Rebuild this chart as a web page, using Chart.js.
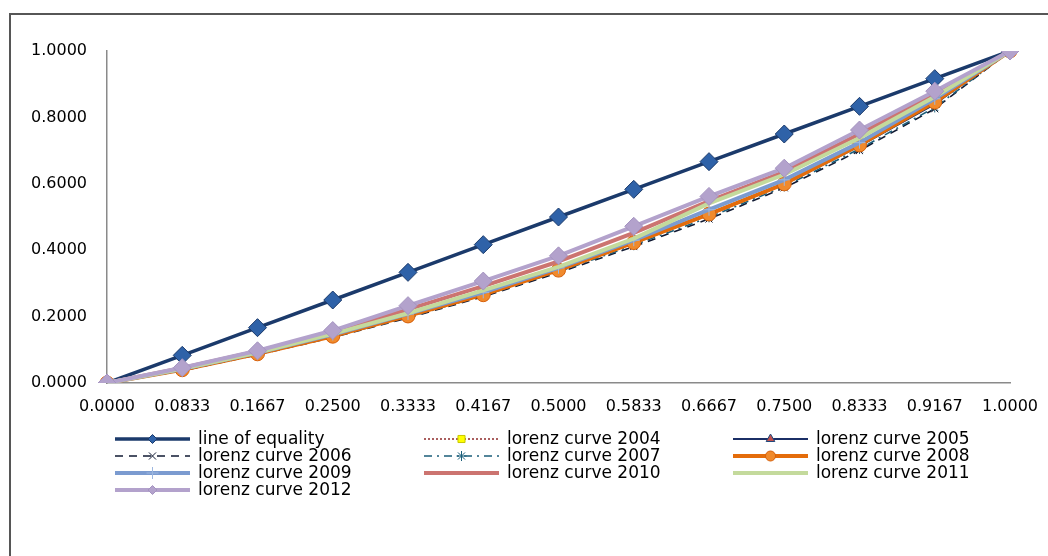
<!DOCTYPE html>
<html>
<head>
<meta charset="utf-8">
<script src="https://cdn.jsdelivr.net/npm/chart.js@4.4.1/dist/chart.umd.min.js"></script>
<style>
  html, body { margin: 0; padding: 0; background: #ffffff; }
  #wrap { position: relative; width: 1048px; height: 556px; }
</style>
</head>
<body>
<div id="wrap"><canvas id="c" width="1048" height="556"></canvas></div>
<script>
// Cumulative population share (x) and income share (y) per year
const xLabels = ['0.0000', '0.0833', '0.1667', '0.2500', '0.3333', '0.4167', '0.5000',
                 '0.5833', '0.6667', '0.7500', '0.8333', '0.9167', '1.0000'];
const yTicks = [0, 0.2, 0.4, 0.6, 0.8, 1.0];

const lineOfEquality = [0, 0.0833, 0.1667, 0.25, 0.3333, 0.4167, 0.5, 0.5833, 0.6667, 0.75, 0.8333, 0.9167, 1];
const lorenz2004 = [0, 0.040, 0.088, 0.142, 0.203, 0.268, 0.342, 0.425, 0.510, 0.602, 0.717, 0.845, 1];
const lorenz2005 = [0, 0.039, 0.087, 0.141, 0.201, 0.266, 0.339, 0.421, 0.506, 0.598, 0.713, 0.840, 1];
const lorenz2006 = [0, 0.037, 0.085, 0.137, 0.196, 0.260, 0.332, 0.411, 0.494, 0.588, 0.700, 0.826, 1];
const lorenz2007 = [0, 0.038, 0.086, 0.139, 0.198, 0.263, 0.335, 0.415, 0.499, 0.592, 0.705, 0.830, 1];
const lorenz2008 = [0, 0.040, 0.088, 0.141, 0.202, 0.266, 0.340, 0.423, 0.509, 0.600, 0.717, 0.846, 1];
const lorenz2009 = [0, 0.042, 0.091, 0.146, 0.208, 0.273, 0.347, 0.430, 0.522, 0.612, 0.724, 0.856, 1];
const lorenz2010 = [0, 0.045, 0.096, 0.154, 0.222, 0.292, 0.366, 0.452, 0.548, 0.636, 0.750, 0.870, 1];
const lorenz2011 = [0, 0.043, 0.092, 0.148, 0.210, 0.279, 0.350, 0.435, 0.541, 0.628, 0.738, 0.862, 1];
const lorenz2012 = [0, 0.046, 0.097, 0.158, 0.233, 0.307, 0.383, 0.472, 0.562, 0.647, 0.762, 0.879, 1];

const seriesNames = ['line of equality', 'lorenz curve 2004', 'lorenz curve 2005', 'lorenz curve 2006',
                     'lorenz curve 2007', 'lorenz curve 2008', 'lorenz curve 2009', 'lorenz curve 2010',
                     'lorenz curve 2011', 'lorenz curve 2012'];
const seriesValues = [lineOfEquality, lorenz2004, lorenz2005, lorenz2006, lorenz2007,
                      lorenz2008, lorenz2009, lorenz2010, lorenz2011, lorenz2012];

// Visual style of each series (line + marker)
const styles = [
  { color: '#1B3A6B', width: 3.5, dash: [], point: 'rectRot', r: 9, fill: '#2F62A8', stroke: '#1B3A6B', lr: 4.5 },
  { color: '#8E2A2A', width: 1.5, dash: [2, 2], point: 'rect', r: 5, fill: '#FFFF00', stroke: '#C8C800', lr: 5 },
  { color: '#1B2F66', width: 1.8, dash: [], point: 'triangle', r: 5, fill: '#C0504D', stroke: '#1F497D', lr: 5 },
  { color: '#111a33', width: 1.6, dash: [8, 6], point: 'crossRot', r: 5, fill: '#111a33', stroke: '#111a33', lr: 5 },
  { color: '#1B5E7A', width: 1.6, dash: [8, 5, 2, 5], point: 'star', r: 5, fill: '#1B5E7A', stroke: '#1B5E7A', lr: 5 },
  { color: '#E46C0A', width: 4, dash: [], point: 'circle', r: 7, fill: '#F08A2C', stroke: '#D7600A', lr: 5 },
  { color: '#7B9BD0', width: 4, dash: [], point: 'cross', r: 6, fill: '#7B9BD0', stroke: '#9DB7E0', lr: 6 },
  { color: '#CC7470', width: 4, dash: [], point: false, r: 0, fill: '#CC7470', stroke: '#CC7470', lr: 0 },
  { color: '#C4DA9C', width: 4, dash: [], point: false, r: 0, fill: '#C4DA9C', stroke: '#C4DA9C', lr: 0 },
  { color: '#B3A2CC', width: 4, dash: [], point: 'rectRot', r: 9, fill: '#B3A2CC', stroke: '#A493C0', lr: 4.5 }
];

const datasets = seriesValues.map((vals, i) => {
  const s = styles[i];
  return {
    label: seriesNames[i],
    data: vals,
    borderColor: s.color,
    borderWidth: s.width,
    borderDash: s.dash,
    pointStyle: s.point,
    pointRadius: s.point ? s.r : 0,
    pointBackgroundColor: s.fill,
    pointBorderColor: s.stroke,
    pointBorderWidth: 1,
    tension: 0,
    fill: false,
    order: seriesValues.length - i
  };
});

// White page with the outer chart frame
const framePlugin = {
  id: 'frame',
  beforeDraw(chart) {
    const ctx = chart.ctx;
    ctx.save();
    ctx.fillStyle = '#ffffff';
    ctx.fillRect(0, 0, chart.width, chart.height);
    ctx.strokeStyle = '#565656';
    ctx.lineWidth = 2;
    ctx.strokeRect(10, 14, chart.width + 20, chart.height + 20);
    ctx.restore();
  }
};

// Three-column legend below the plot
const legendPlugin = {
  id: 'gridLegend',
  afterDraw(chart) {
    const ctx = chart.ctx;
    const colX = [115, 424, 733];
    const rowY = [439, 456, 473, 490];
    const sampleLen = 75;
    ctx.save();
    ctx.font = '17px "DejaVu Sans"';
    ctx.textBaseline = 'middle';
    ctx.fillStyle = '#000000';
    chart.data.datasets.forEach((ds, i) => {
      const s = styles[i];
      const x0 = colX[i % 3];
      const y = rowY[Math.floor(i / 3)];
      ctx.save();
      ctx.strokeStyle = s.color;
      ctx.lineWidth = s.width;
      ctx.setLineDash(s.dash);
      ctx.beginPath();
      ctx.moveTo(x0, y);
      ctx.lineTo(x0 + sampleLen, y);
      ctx.stroke();
      ctx.setLineDash([]);
      if (s.point && s.lr > 0) {
        ctx.fillStyle = s.fill;
        ctx.strokeStyle = s.stroke;
        ctx.lineWidth = 1;
        Chart.helpers.drawPoint(ctx, { pointStyle: s.point, radius: s.lr, rotation: 0, borderWidth: 1 },
                                x0 + sampleLen / 2, y);
      }
      ctx.restore();
      ctx.fillText(ds.label, x0 + sampleLen + 8, y + 1);
    });
    ctx.restore();
  }
};

new Chart(document.getElementById('c'), {
  type: 'line',
  data: { labels: xLabels, datasets: datasets },
  options: {
    responsive: false,
    animation: false,
    layout: { padding: { left: 10, right: 38, top: 51, bottom: 0 } },
    plugins: { legend: { display: false }, tooltip: { enabled: false } },
    elements: { line: { borderCapStyle: 'butt', borderJoinStyle: 'round' } },
    scales: {
      x: {
        type: 'category',
        offset: false,
        grid: { display: false, drawTicks: false },
        border: { display: true, color: '#8a8a8a', width: 1.5 },
        ticks: {
          color: '#000000',
          font: { family: '"DejaVu Sans"', size: 16 },
          padding: 14,
          maxRotation: 0,
          autoSkip: false
        },
        afterFit(scale) {
          scale.height = 556 - 383;
          scale.paddingLeft = 0;
          scale.paddingRight = 0;
        }
      },
      y: {
        min: 0,
        max: 1,
        afterBuildTicks(scale) { scale.ticks = yTicks.map(v => ({ value: v })); },
        grid: { display: false, drawTicks: false },
        border: { display: true, color: '#8a8a8a', width: 1.5 },
        ticks: {
          color: '#000000',
          font: { family: '"DejaVu Sans"', size: 16 },
          padding: 20,
          callback: v => Number(v).toFixed(4)
        },
        afterFit(scale) { scale.width = 97; }
      }
    }
  },
  plugins: [framePlugin, legendPlugin]
});
</script>
</body>
</html>
